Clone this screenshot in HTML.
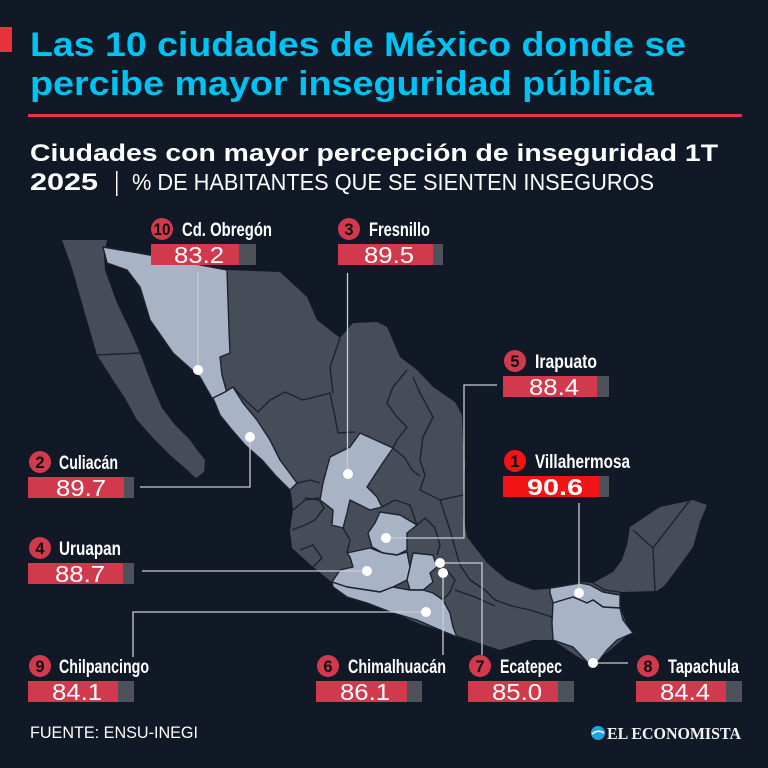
<!DOCTYPE html>
<html><head><meta charset="utf-8"><style>
html,body{margin:0;padding:0;background:#111926;}
svg{display:block}
.nm{font-family:"Liberation Sans Narrow","Liberation Sans",sans-serif;font-weight:bold;fill:#fff;font-size:19px}
.nu{font-family:"Liberation Sans",sans-serif;fill:#fff;font-size:23px;text-anchor:middle}
.bd{font-family:"Liberation Sans",sans-serif;font-weight:bold;fill:#111;font-size:16.5px;text-anchor:middle}
.ld{stroke:#c8ccd4;stroke-width:1.3;fill:none}
.st{stroke:#1b2230;stroke-width:1.4;fill:none;stroke-linejoin:round}
</style></head><body>
<svg width="768" height="768" viewBox="0 0 768 768" xmlns="http://www.w3.org/2000/svg">
<rect width="768" height="768" fill="#111926"/>
<!-- header -->
<rect x="0" y="27" width="12" height="25" fill="#e8333d"/>
<text x="30" y="56" font-family="Liberation Sans, sans-serif" font-weight="bold" font-size="34" fill="#00c2f3" textLength="656" lengthAdjust="spacingAndGlyphs">Las 10 ciudades de México donde se</text>
<text x="30" y="95" font-family="Liberation Sans, sans-serif" font-weight="bold" font-size="34" fill="#00c2f3" textLength="624" lengthAdjust="spacingAndGlyphs">percibe mayor inseguridad pública</text>
<rect x="28" y="114" width="714" height="3" fill="#e0363f"/>
<text x="30" y="161" font-family="Liberation Sans, sans-serif" font-weight="bold" font-size="24" fill="#fff" textLength="688" lengthAdjust="spacingAndGlyphs">Ciudades con mayor percepción de inseguridad 1T</text>
<text x="30" y="190" font-family="Liberation Sans, sans-serif" font-weight="bold" font-size="24" fill="#fff" textLength="68" lengthAdjust="spacingAndGlyphs">2025</text>
<rect x="116" y="171" width="1.5" height="25" fill="#fff"/>
<text x="132" y="190" font-family="Liberation Sans Narrow, Liberation Sans, sans-serif" font-size="23" fill="#fff" textLength="522" lengthAdjust="spacingAndGlyphs">% DE HABITANTES QUE SE SIENTEN INSEGUROS</text>

<!-- map -->
<g>
<polygon fill="#474c59" points="62,240 107,240 104,255 105,270 117,303 130,330 140,353 150,380 162,408 175,425 190,440 197,450 205,460 204,472 196,478 185,468 170,455 155,440 137,420 125,398 113,380 97,355 82,303 72,268"/>
<polyline class="st" points="97,355 140,353"/>
<polygon fill="#474c59" points="103,247 150,255 190,263 227,270 280,272 307,297 317,320 340,338 353,323 377,322 387,327 400,357 417,370 433,387 455,402 462,415 463,440 465,465 463,495 463,517 467,537 487,563 507,580 533,590 557,588 580,582 593,583 613,572 622,560 627,545 630,527 660,507 693,500 707,505 700,522 693,547 680,565 665,585 657,591 620,592 620,607 630,633 610,650 592,665 575,655 553,640 533,640 500,650 470,640 452,634 420,624 387,610 360,598 333,583 313,567 292,548 290,530 293,510 290,485 275,465 250,440 230,420 213,400 200,377 173,353 150,320 140,287 127,270 107,263"/>
<!-- internal borders -->
<polyline class="st" points="233,387 245,400 258,412 270,400 285,392 303,400 330,393 335,417 338,433 355,432"/>
<polyline class="st" points="340,338 330,367 333,393"/>
<polyline class="st" points="407,370 393,387 387,403 397,417 407,427 397,440 393,448"/>
<polyline class="st" points="413,377 420,393 433,417 423,437 420,460 425,475 420,490 440,500 463,495"/>
<polyline class="st" points="393,448 405,458 412,470 420,476"/>
<polyline class="st" points="297,483 310,480 320,483"/>
<polyline class="st" points="293,510 305,500 318,498 324,508 315,520 305,525 292,530"/>
<polyline class="st" points="300,550 313,545 322,558 313,567"/>
<polyline class="st" points="343,528 350,540 347,553"/>
<polyline class="st" points="320,500 305,498"/>
<polyline class="st" points="440,500 445,515 450,530 455,548 460,565 470,580 485,590 495,600 512,606 530,610 552,617"/>
<polyline class="st" points="417,525 425,518 435,528 440,545 437,555"/>
<polyline class="st" points="437,567 447,570 455,580 450,592 443,600"/>
<polyline class="st" points="455,590 475,597 495,606"/>
<polyline class="st" points="382,507 395,500 410,505 417,525"/>
<polyline class="st" points="633,530 653,548 690,500"/>
<polyline class="st" points="653,548 655,591"/>
<polyline class="st" points="593,583 605,590 620,592"/>
<!-- light states -->
<g fill="#a9b3c6" stroke="#1b2230" stroke-width="1.4" stroke-linejoin="round">
<polygon points="103,247 150,255 190,263 227,270 228,300 229,330 230,353 220,357 222,375 227,393 213,400 200,377 173,353 150,320 140,287 127,270 107,263"/>
<polygon points="213,398 225,392 233,387 243,403 257,420 270,440 280,460 297,483 290,490 275,475 262,460 245,445 232,430 220,415"/>
<polygon points="360,433 393,448 380,467 367,487 377,497 382,507 370,510 350,500 347,513 343,528 332,525 333,510 320,500 323,483 330,457 350,447"/>
<polygon points="380,512 400,515 417,525 407,533 407,550 397,555 383,553 372,547 368,533 375,523"/>
<polygon points="347,553 370,548 383,553 397,555 407,552 410,567 407,580 393,587 380,592 367,590 347,587 332,582 340,570 353,567 350,557"/>
<polygon points="413,553 433,555 437,567 430,573 433,582 423,590 410,590 407,580 410,567"/>
<polygon points="332,582 347,587 367,590 380,592 393,587 410,590 423,590 433,593 443,600 450,613 453,627 457,637 440,630 417,620 393,613 367,603 347,597 333,587"/>
<polygon points="550,588 557,587 580,583 590,585 603,592 620,595 620,608 603,607 593,600 587,603 580,600 573,597 563,600 553,603 550,593"/>
<polygon points="553,603 563,600 573,597 587,603 593,600 603,607 620,608 623,620 633,633 617,640 607,650 597,663 590,665 573,647 553,640 552,623"/>
</g>
</g>

<!-- leader lines -->
<line class="ld" x1="198" y1="272" x2="198" y2="370"/>
<line class="ld" x1="347.5" y1="273" x2="347.5" y2="474"/>
<polyline class="ld" points="140,487 250,487 250,437"/>
<line class="ld" x1="142" y1="571" x2="367" y2="571"/>
<polyline class="ld" points="133,657 133,612 426,612"/>
<line class="ld" x1="443" y1="573" x2="443" y2="655"/>
<polyline class="ld" points="440,563 482,563 482,655"/>
<polyline class="ld" points="386,538 464,538 464,385 497,385"/>
<line class="ld" x1="579" y1="503" x2="579" y2="593"/>
<line class="ld" x1="593" y1="663" x2="628" y2="663"/>
<g fill="#fff">
<circle cx="198" cy="370" r="5"/><circle cx="348" cy="474" r="5"/><circle cx="250" cy="437" r="5"/>
<circle cx="367" cy="571" r="5"/><circle cx="426" cy="612" r="5"/><circle cx="443" cy="573" r="5"/>
<circle cx="440" cy="563" r="5"/><circle cx="386" cy="538" r="5"/><circle cx="579" cy="593" r="5"/>
<circle cx="593" cy="663" r="5"/>
</g>

<!-- labels -->
<g>
<circle cx="162" cy="229" r="11" fill="#d1394c"/><text class="bd" x="162" y="235" textLength="17" lengthAdjust="spacingAndGlyphs">10</text>
<text class="nm" x="182" y="236" textLength="90" lengthAdjust="spacingAndGlyphs">Cd. Obregón</text>
<rect x="151" y="244" width="105" height="21" fill="#4c515a"/><rect x="151" y="244" width="88" height="21" fill="#d1394c"/>
<text class="nu" x="199" y="263" textLength="50" lengthAdjust="spacingAndGlyphs">83.2</text>

<circle cx="349" cy="229" r="11" fill="#d1394c"/><text class="bd" x="349" y="235">3</text>
<text class="nm" x="369" y="236" textLength="61" lengthAdjust="spacingAndGlyphs">Fresnillo</text>
<rect x="338" y="244" width="105" height="21" fill="#4c515a"/><rect x="338" y="244" width="95" height="21" fill="#d1394c"/>
<text class="nu" x="389" y="263" textLength="50" lengthAdjust="spacingAndGlyphs">89.5</text>

<circle cx="515" cy="361" r="11" fill="#d1394c"/><text class="bd" x="515" y="367">5</text>
<text class="nm" x="535" y="368" textLength="62" lengthAdjust="spacingAndGlyphs">Irapuato</text>
<rect x="503" y="376" width="106" height="21" fill="#4c515a"/><rect x="503" y="376" width="94" height="21" fill="#d1394c"/>
<text class="nu" x="554" y="395" textLength="50" lengthAdjust="spacingAndGlyphs">88.4</text>

<circle cx="515" cy="461" r="11" fill="#f21414"/><text class="bd" x="515" y="467">1</text>
<text class="nm" x="535" y="468" textLength="95" lengthAdjust="spacingAndGlyphs">Villahermosa</text>
<rect x="503" y="476" width="106" height="21" fill="#4c515a"/><rect x="503" y="476" width="96" height="21" fill="#f21414"/>
<text class="nu" x="555" y="495" font-weight="bold" textLength="56" lengthAdjust="spacingAndGlyphs">90.6</text>

<circle cx="40" cy="462" r="11" fill="#d1394c"/><text class="bd" x="40" y="468">2</text>
<text class="nm" x="59" y="469" textLength="59" lengthAdjust="spacingAndGlyphs">Culiacán</text>
<rect x="28" y="477" width="106" height="21" fill="#4c515a"/><rect x="28" y="477" width="96" height="21" fill="#d1394c"/>
<text class="nu" x="81" y="496" textLength="50" lengthAdjust="spacingAndGlyphs">89.7</text>

<circle cx="40" cy="548" r="11" fill="#d1394c"/><text class="bd" x="40" y="554">4</text>
<text class="nm" x="59" y="555" textLength="62" lengthAdjust="spacingAndGlyphs">Uruapan</text>
<rect x="28" y="563" width="106" height="21" fill="#4c515a"/><rect x="28" y="563" width="95" height="21" fill="#d1394c"/>
<text class="nu" x="80" y="582" textLength="50" lengthAdjust="spacingAndGlyphs">88.7</text>

<circle cx="40" cy="666" r="11" fill="#d1394c"/><text class="bd" x="40" y="672">9</text>
<text class="nm" x="59" y="673" textLength="90" lengthAdjust="spacingAndGlyphs">Chilpancingo</text>
<rect x="28" y="681" width="106" height="21" fill="#4c515a"/><rect x="28" y="681" width="90" height="21" fill="#d1394c"/>
<text class="nu" x="77" y="700" textLength="50" lengthAdjust="spacingAndGlyphs">84.1</text>

<circle cx="328" cy="666" r="11" fill="#d1394c"/><text class="bd" x="328" y="672">6</text>
<text class="nm" x="348" y="673" textLength="98" lengthAdjust="spacingAndGlyphs">Chimalhuacán</text>
<rect x="316" y="681" width="106" height="21" fill="#4c515a"/><rect x="316" y="681" width="91" height="21" fill="#d1394c"/>
<text class="nu" x="365" y="700" textLength="50" lengthAdjust="spacingAndGlyphs">86.1</text>

<circle cx="480" cy="666" r="11" fill="#d1394c"/><text class="bd" x="480" y="672">7</text>
<text class="nm" x="500" y="673" textLength="62" lengthAdjust="spacingAndGlyphs">Ecatepec</text>
<rect x="468" y="681" width="106" height="21" fill="#4c515a"/><rect x="468" y="681" width="90" height="21" fill="#d1394c"/>
<text class="nu" x="517" y="700" textLength="50" lengthAdjust="spacingAndGlyphs">85.0</text>

<circle cx="648" cy="666" r="11" fill="#d1394c"/><text class="bd" x="648" y="672">8</text>
<text class="nm" x="668" y="673" textLength="71" lengthAdjust="spacingAndGlyphs">Tapachula</text>
<rect x="636" y="681" width="106" height="21" fill="#4c515a"/><rect x="636" y="681" width="90" height="21" fill="#d1394c"/>
<text class="nu" x="685" y="700" textLength="50" lengthAdjust="spacingAndGlyphs">84.4</text>
</g>

<!-- footer -->
<text x="30" y="738" font-family="Liberation Sans Narrow, Liberation Sans, sans-serif" font-size="17" fill="#fff" textLength="168" lengthAdjust="spacingAndGlyphs">FUENTE: ENSU-INEGI</text>
<circle cx="598" cy="733" r="7" fill="#1fa3e0"/>
<path d="M592,734 Q598,729 604,733" stroke="#fff" stroke-width="1.5" fill="none"/>
<text x="607" y="739" font-family="Liberation Serif, serif" font-weight="bold" font-size="17" fill="#f2f2f2" textLength="134" lengthAdjust="spacingAndGlyphs">EL ECONOMISTA</text>
</svg>
</body></html>
